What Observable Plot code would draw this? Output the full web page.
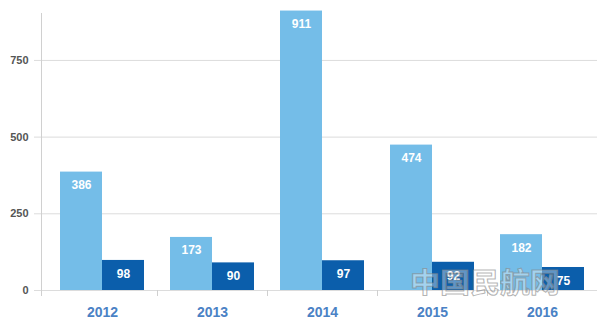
<!DOCTYPE html>
<html><head><meta charset="utf-8">
<script src="https://cdn.jsdelivr.net/npm/d3@7"></script>
<script src="https://cdn.jsdelivr.net/npm/@observablehq/plot@0.6"></script>
<style>
body{margin:0;background:#fff}
#chart{position:relative;width:600px;height:326px}
#wm{position:absolute;left:410px;top:267px;height:28px;font-family:"Noto Sans CJK SC",sans-serif;font-size:28px;font-weight:bold;color:rgba(255,255,255,0.35);-webkit-text-stroke:1px rgba(130,130,130,0.6);line-height:28px;transform:scaleX(1.07);transform-origin:left top;white-space:nowrap;pointer-events:none}
</style>
</head><body>
<div id="chart"></div>
<script>
const years = ["2012", "2013", "2014", "2015", "2016"];
const seriesLight = [386, 173, 911, 474, 182];
const seriesDark = [98, 90, 97, 92, 75];
const yTicks = [0, 250, 500, 750];
const watermark = "中国民航网";
const lightColor = "#74bde8";
const darkColor = "#0b5eab";

const data = years.map((year, i) => ({year, light: seriesLight[i], dark: seriesDark[i]}));

const plot = Plot.plot({
  width: 600, height: 326,
  marginTop: 13, marginBottom: 36, marginLeft: 41, marginRight: 3,
  style: {fontFamily: "'Liberation Sans', Arial, sans-serif", background: "#fff"},
  x: {type: "band", domain: years, paddingInner: 0.236, paddingOuter: 0.118, insetLeft: 6, axis: null},
  y: {domain: [0, 903], axis: null},
  marks: [
    Plot.gridY(yTicks, {stroke: "#dcdcdc", strokeOpacity: 1}),
    Plot.axisY(yTicks, {tickSize: 7, tickPadding: 6, stroke: "#dcdcdc", fill: "#555", fontWeight: "bold", fontSize: 11, label: null}),
    Plot.frame({anchor: "left", stroke: "#d0d0d0"}),
    Plot.axisX([years[0]], {dx: -61, tickSize: 6, tickFormat: () => "", stroke: "#d0d0d0", label: null}),
    Plot.axisX(years.slice(0, -1), {dx: 55, tickSize: 6, tickFormat: () => "", stroke: "#d0d0d0", label: null}),
    Plot.axisX(years, {tickSize: 0, tickPadding: 17, fill: "#4a82c5", fontSize: 14, fontWeight: "bold", label: null}),
    Plot.barY(data, {x: "year", y: "light", fill: lightColor, insetRight: 42}),
    Plot.barY(data, {x: "year", y: "dark", fill: darkColor, insetLeft: 42}),
    Plot.text(data, {x: "year", y: "light", text: d => String(d.light), dx: -21, dy: 13, fill: "white", fontWeight: "bold", fontSize: 12}),
    Plot.text(data, {x: "year", y: "dark", text: d => String(d.dark), dx: 21, dy: 13.5, fill: "white", fontWeight: "bold", fontSize: 12})
  ]
});
const chart = document.getElementById("chart");
chart.appendChild(plot);
const wm = document.createElement("div");
wm.id = "wm";
wm.textContent = watermark;
chart.appendChild(wm);
</script>
</body></html>
